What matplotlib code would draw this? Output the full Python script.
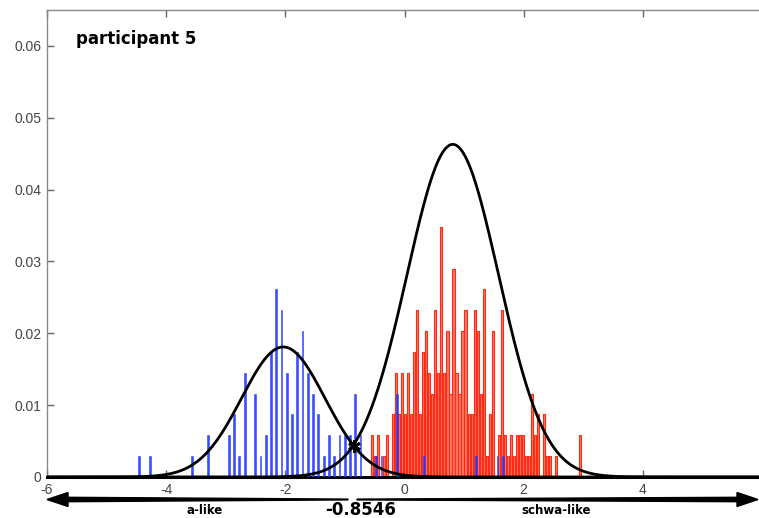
import numpy as np
import matplotlib.pyplot as plt
from matplotlib.patches import Polygon

# one count in the histograms corresponds to this height
unit = 0.0029

# a-like responses (blue)
blue_start = -4.451
blue_width = 0.0884
blue_counts = [1, 0, 1, 0, 0, 0, 0, 0, 0, 0, 1, 0, 0, 2, 0, 0, 0,
               2, 3, 1, 5, 0, 4, 1, 2, 6, 9, 8, 5, 3, 6, 7, 5, 4, 3, 1, 2,
               1, 2, 2, 2, 4, 2, 0, 0, 1, 1, 0, 0, 4, 0, 0, 0, 0, 1,
               0, 0, 0, 0, 0, 0, 0, 0, 0, 1, 0, 0, 0, 1, 1]

# schwa-like responses (red)
red_start = -0.547
red_width = 0.0507
red_counts = [2, 1, 2, 0, 1, 2, 0, 3, 5, 3, 5, 3, 5, 3, 6, 8, 3, 6, 7, 5,
              4, 8, 5, 12, 5, 7, 4, 10, 5, 4, 7, 8, 3, 3, 8, 7, 4, 9, 1, 3,
              7, 0, 2, 8, 2, 1, 2, 1, 2, 2, 2, 1, 1, 4, 2, 3, 0, 3, 1, 1,
              0, 1, 0, 0, 0, 0, 0, 0, 0, 2]

# fitted gaussians: peak height, mean, sd
blue_fit = (0.0181, -2.035, 0.70)
red_fit = (0.0463, 0.81, 0.77)
boundary = -0.8546

xticks = [-6, -4, -2, 0, 2, 4, 6]
yticks = [0, 0.01, 0.02, 0.03, 0.04, 0.05, 0.06]


def gauss(x, fit):
    h, m, s = fit
    return h * np.exp(-(x - m) ** 2 / (2 * s ** 2))


W, H = 759, 518
fig = plt.figure(figsize=(W / 100, H / 100), dpi=100)
ax = fig.add_axes([47 / W, 1 - 477 / H, (762 - 47) / W, (477 - 10) / H])

bx = blue_start + blue_width * np.arange(len(blue_counts))
rx = red_start + red_width * np.arange(len(red_counts))
bh = np.array(blue_counts) * unit
rh = np.array(red_counts) * unit

ax.bar(rx, rh, width=0.036, color='#ff7a68', edgecolor='#ff2a14', linewidth=0.8, zorder=2)
ax.bar(bx, bh, width=0.03, color='#2238ff', alpha=0.9, edgecolor='#2238ff',
       linewidth=0.4, zorder=3)

xs = np.linspace(-6, 6, 800)
ax.plot(xs, gauss(xs, blue_fit), color='black', lw=2, zorder=4)
ax.plot(xs, gauss(xs, red_fit), color='black', lw=2, zorder=4)
ax.plot([boundary], [gauss(boundary, blue_fit)], marker=(6, 2, 0), ms=9, mew=2,
        color='black', zorder=5)

ax.set_xlim(-6, 6)
ax.set_ylim(0, 0.065)
ax.set_xticks(xticks)
ax.set_xticklabels([str(t) for t in xticks])
ax.set_yticks(yticks)
ax.set_yticklabels(['0'] + ['%.2f' % t for t in yticks[1:]])
ax.tick_params(direction='in', top=True, right=False, length=5, width=1,
               labelsize=10, labelcolor='#444444', color='#666666', pad=4)
for lab in ax.get_xticklabels() + ax.get_yticklabels():
    lab.set_fontfamily('Liberation Sans')
for s in ['left', 'top', 'right']:
    ax.spines[s].set_color('#888888')
    ax.spines[s].set_linewidth(1)
ax.spines['bottom'].set_color('black')
ax.spines['bottom'].set_linewidth(2.2)

ax.text(0.0406, 0.927, 'participant 5', transform=ax.transAxes, fontsize=12,
        fontweight='bold', family='DejaVu Sans', va='baseline', ha='left')


# double arrow under the axis (pixel positions -> figure fraction)
def fp(pts):
    return [(x / W, 1 - y / H) for x, y in pts]


ya = 499.5
left_arrow = [(47, ya), (68, ya - 7), (68, ya - 2.2), (348, ya - 0.4),
              (348, ya + 0.4), (68, ya + 2.2), (68, ya + 7)]
right_arrow = [(758, ya), (737, ya - 7), (737, ya - 2.2), (357, ya - 0.4),
               (357, ya + 0.4), (737, ya + 2.2), (737, ya + 7)]
for pts in (left_arrow, right_arrow):
    fig.patches.append(Polygon(fp(pts), closed=True, color='black',
                               transform=fig.transFigure, figure=fig))

fig.text(205 / W, 1 - 510 / H, 'a-like', fontsize=8.5, fontweight='bold',
         ha='center', va='center')
fig.text(556 / W, 1 - 510 / H, 'schwa-like', fontsize=8.5, fontweight='bold',
         ha='center', va='center')
fig.text(361 / W, 1 - 510 / H, '-0.8546', fontsize=12, fontweight='bold',
         ha='center', va='center')

fig.savefig('out.png', dpi=100)
